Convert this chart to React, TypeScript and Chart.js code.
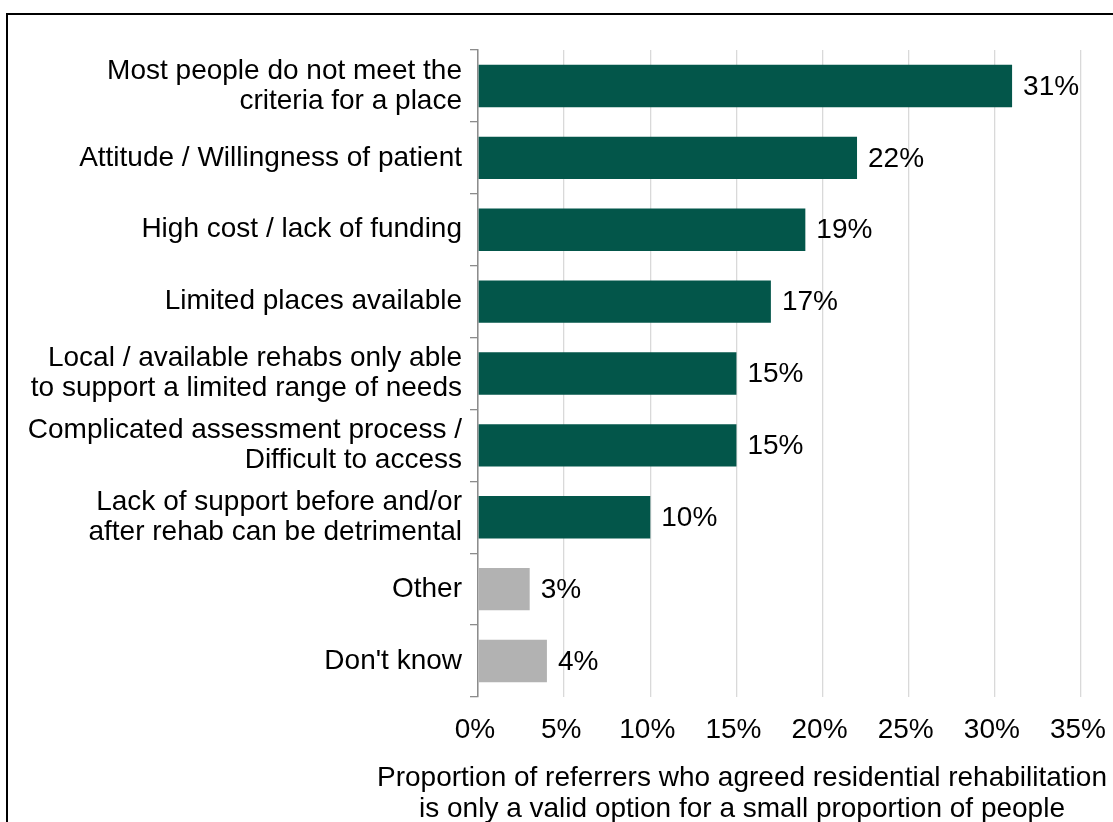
import React, { useEffect, useRef } from "react";
import { Chart, registerables } from "chart.js";

Chart.register(...registerables);

const categories: (string | string[])[] = [
  ["Most people do not meet the", "criteria for a place"],
  "Attitude / Willingness of patient",
  "High cost / lack of funding",
  "Limited places available",
  ["Local / available rehabs only able", "to support a limited range of needs"],
  ["Complicated assessment process /", "Difficult to access"],
  ["Lack of support before and/or", "after rehab can be detrimental"],
  "Other",
  "Don't know",
];

const values: number[] = [31, 22, 19, 17, 15, 15, 10, 3, 4];

const greyCategories: string[] = ["Other", "Don't know"];

const xTicks: number[] = [0, 5, 10, 15, 20, 25, 30, 35];

const axisTitle: string[] = [
  "Proportion of referrers who agreed residential rehabilitation",
  "is only a valid option for a small proportion of people",
];

const GREEN = "#03564A";
const GREY = "#B2B2B2";
const FONT_FAMILY = "'Liberation Sans', Arial, sans-serif";
const FONT_SIZE = 28;

const valueLabels = {
  id: "valueLabels",
  afterDatasetsDraw(chart: any) {
    const ctx = chart.ctx;
    const meta = chart.getDatasetMeta(0);
    ctx.save();
    ctx.font = `${FONT_SIZE}px ${FONT_FAMILY}`;
    ctx.fillStyle = "#000000";
    ctx.textAlign = "left";
    ctx.textBaseline = "middle";
    meta.data.forEach((el: any, i: number) => {
      const v = chart.data.datasets[0].data[i];
      ctx.fillText(`${v}%`, el.x + 11, el.y + 1);
    });
    ctx.restore();
  },
};

const axisTitlePlugin = {
  id: "axisTitlePlugin",
  afterDraw(chart: any) {
    const ctx = chart.ctx;
    ctx.save();
    ctx.font = `${FONT_SIZE}px ${FONT_FAMILY}`;
    ctx.fillStyle = "#000000";
    ctx.textAlign = "center";
    ctx.textBaseline = "middle";
    const cx = 742;
    axisTitle.forEach((line, i) => {
      ctx.fillText(line, cx, 778 + i * 31);
    });
    ctx.restore();
  },
};

export default function App() {
  const canvasRef = useRef<HTMLCanvasElement | null>(null);

  useEffect(() => {
    if (!canvasRef.current) return;
    const colors = categories.map((c) =>
      greyCategories.includes(Array.isArray(c) ? c.join(" ") : c) ? GREY : GREEN
    );
    const chart = new Chart(canvasRef.current, {
      type: "bar",
      data: {
        labels: categories,
        datasets: [
          {
            data: values,
            backgroundColor: colors,
            borderWidth: 0,
            categoryPercentage: 1,
            barPercentage: 0.59,
          },
        ],
      },
      plugins: [valueLabels, axisTitlePlugin],
      options: {
        indexAxis: "y",
        responsive: false,
        animation: false,
        maintainAspectRatio: false,
        layout: { padding: { top: 50, right: 32, left: 0, bottom: 0 } },
        plugins: {
          legend: { display: false },
          tooltip: { enabled: false },
        },
        scales: {
          x: {
            type: "linear",
            min: 0,
            max: 35,
            afterBuildTicks: (scale: any) => {
              scale.ticks = xTicks.map((v) => ({ value: v }));
            },
            afterFit: (scale: any) => {
              scale.height = 125;
              scale.paddingLeft = 0;
              scale.paddingRight = 0;
            },
            grid: {
              color: "#D9D9D9",
              lineWidth: 1.3,
              drawTicks: false,
            },
            border: { display: false },
            ticks: {
              padding: 16,
              labelOffset: -3,
              color: "#000000",
              font: { family: FONT_FAMILY, size: FONT_SIZE },
              callback: (v: any) => `${v}%`,
              maxRotation: 0,
            },
          },
          y: {
            type: "category",
            afterFit: (scale: any) => {
              scale.width = 478;
            },
            grid: {
              display: true,
              drawOnChartArea: false,
              drawTicks: true,
              tickLength: 8,
              color: "#8C8C8C",
              lineWidth: 1.3,
              offset: true,
            },
            border: { display: true, color: "#8C8C8C", width: 1.5 },
            ticks: {
              padding: 8,
              color: "#000000",
              font: { family: FONT_FAMILY, size: FONT_SIZE, lineHeight: "30px" },
              autoSkip: false,
            },
          },
        },
      },
    } as any);
    return () => chart.destroy();
  }, []);

  return (
    <div
      style={{
        position: "fixed",
        left: 0,
        top: 0,
        width: 1113,
        height: 822,
        overflow: "hidden",
        background: "#FFFFFF",
      }}
    >
      <div
        style={{
          position: "absolute",
          left: 6,
          top: 13,
          width: 1300,
          height: 1000,
          borderLeft: "2.5px solid #000000",
          borderTop: "2.5px solid #000000",
          boxSizing: "border-box",
        }}
      />
      <canvas
        ref={canvasRef}
        width={1113}
        height={822}
        style={{ position: "absolute", left: 0, top: 0, width: 1113, height: 822 }}
      />
    </div>
  );
}
